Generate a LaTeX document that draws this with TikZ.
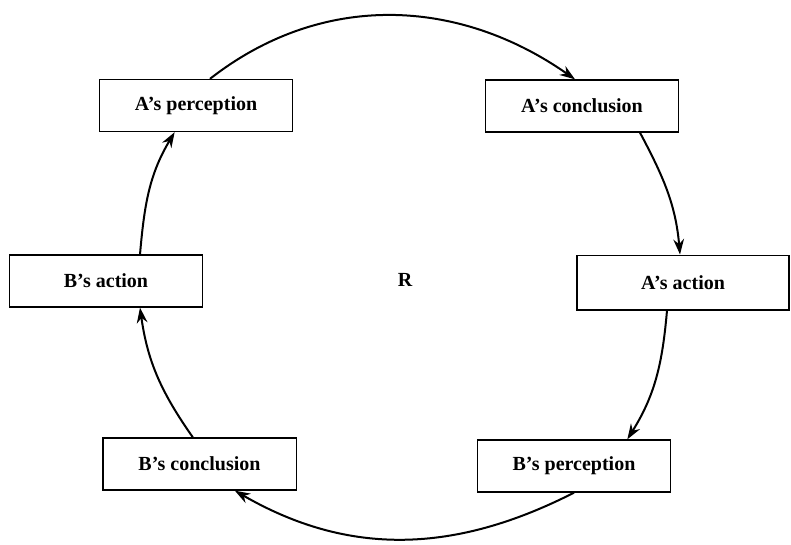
\documentclass[tikz,border=0pt]{standalone}
\usepackage{fontspec}
\setmainfont{Liberation Serif}
\usetikzlibrary{arrows.meta}
\begin{document}
\begin{tikzpicture}[x=0.75pt,y=0.75pt,
  stage/.style={draw, line width=1pt, minimum width=145pt, minimum height=39pt,
    inner sep=0pt, font=\bfseries\fontsize{15}{18}\selectfont},
  flow/.style={-{Stealth[length=11.5pt,width=8pt]}, line width=1.5pt}]
\useasboundingbox (0,0) rectangle (791,-545);

% the six stages of the cycle
\node[stage] (Aper) at (196,-105.5) {A’s perception};
\node[stage] (Acon) at (582,-106)   {A’s conclusion};
\node[stage] (Bact) at (106,-281)   {B’s action};
\node[stage, minimum width=159pt, minimum height=41pt] (Aact) at (683,-282.5) {A’s action};
\node[stage] (Bcon) at (199.5,-464) {B’s conclusion};
\node[stage] (Bper) at (574,-466)   {B’s perception};

% centre label
\node[font=\bfseries\fontsize{15}{18}\selectfont] (R) at (405,-280) {R};

% clockwise arrows round the circle
\draw[flow] ([xshift=10.5pt]Aper.north) to[out=38,in=145] ([xshift=-5.25pt]Acon.north);
\draw[flow] ([xshift=43.5pt]Acon.south) to[out=-62,in=95] ([xshift=-2.25pt]Aact.north);
\draw[flow] ([xshift=-12pt]Aact.south) to[out=-95,in=58] ([xshift=40pt]Bper.north);
\draw[flow] (Bper.south) to[out=-153,in=-30] ([xshift=26.5pt]Bcon.south);
\draw[flow] ([xshift=-5pt]Bcon.north) to[out=125,in=-82] ([xshift=25.5pt]Bact.south);
\draw[flow] ([xshift=25.5pt]Bact.north) to[out=85,in=-121] ([xshift=-16pt]Aper.south);
\end{tikzpicture}
\end{document}
